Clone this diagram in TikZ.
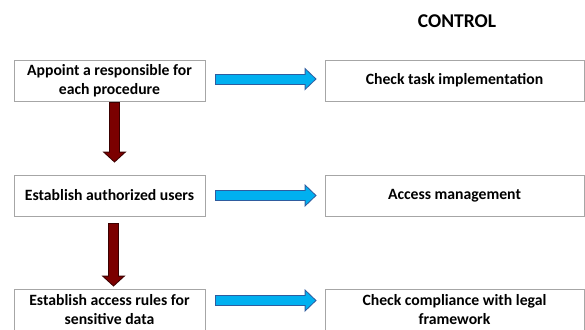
\documentclass[tikz,border=0pt]{standalone}
\usepackage{fontspec}
\setmainfont{Carlito}
\usetikzlibrary{arrows.meta}

\definecolor{boxgray}{HTML}{A6A6A6}
\definecolor{arrowblue}{HTML}{00B0F0}
\definecolor{arrowblueedge}{HTML}{2F5C9E}
\definecolor{arrowred}{HTML}{7B0000}
\definecolor{arrowrededge}{HTML}{3A0000}

\begin{document}
\begin{tikzpicture}[x=1pt,y=-1pt,
  box/.style={draw=boxgray,line width=0.8pt,fill=white,align=center,minimum height=41pt,inner sep=2pt,font=\fontsize{15.7}{19.5}\selectfont\bfseries},
  lbox/.style={box,minimum width=191pt},
  rbox/.style={box,minimum width=259pt},
  blueout/.style={draw=arrowblueedge,line width=11pt,-{Triangle[length=12pt,width=23pt,line width=0pt]},shorten <=10pt,shorten >=8pt},
  bluein/.style={draw=arrowblue,line width=9pt,-{Triangle[length=9.5pt,width=18.3pt,line width=0pt]},shorten <=11pt,shorten >=9.45pt},
  redout/.style={draw=arrowrededge,line width=11pt,-{Triangle[length=11pt,width=24pt,line width=0pt]}},
  redin/.style={draw=arrowred,line width=9pt,-{Triangle[length=8.6pt,width=18.9pt,line width=0pt]}}]

  \useasboundingbox (0,0) rectangle (585,329);

  % Title
  \node[font=\fontsize{19.5}{22}\selectfont\bfseries] (title) at (457,21) {CONTROL};

  % Boxes
  \node[lbox] (l1) at (109.5,80.5) {Appoint a responsible for\\each procedure};
  \node[lbox] (l2) at (109.5,195.5) {Establish authorized users};
  \node[lbox] (l3) at (109.5,309.5) {Establish access rules for\\sensitive data};
  \node[rbox] (r1) at (454.5,80.5) {Check task implementation};
  \node[rbox] (r2) at (454.5,195.5) {Access management};
  \node[rbox] (r3) at (454.5,309.5) {Check compliance with legal\\framework};

  % Arrows to the control side
  \foreach \i/\s in {1/1.5,2/0,3/9}{
    \draw[blueout] ([yshift=\s pt]l\i.east) -- ([yshift=\s pt]r\i.west);
    \draw[bluein] ([yshift=\s pt]l\i.east) -- ([yshift=\s pt]r\i.west);
  }

  % Arrows down
  \draw[redout,shorten <=1pt,shorten >=12pt] ([xshift=5pt]l1.south) -- ([xshift=5pt]l2.north);
  \draw[redin,shorten <=2pt,shorten >=13.36pt] ([xshift=5pt]l1.south) -- ([xshift=5pt]l2.north);
  \draw[redout,shorten <=7pt,shorten >=2pt] ([xshift=4pt]l2.south) -- ([xshift=4pt]l3.north);
  \draw[redin,shorten <=8pt,shorten >=3.36pt] ([xshift=4pt]l2.south) -- ([xshift=4pt]l3.north);

\end{tikzpicture}
\end{document}
